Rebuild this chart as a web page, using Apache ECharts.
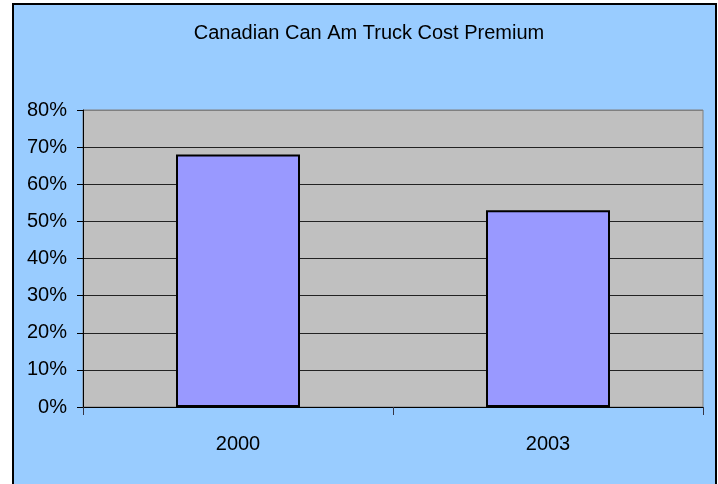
<!DOCTYPE html>
<html>
<head>
<meta charset="utf-8">
<script src="https://cdn.jsdelivr.net/npm/echarts@6/dist/echarts.min.js"></script>
<style>
  html, body { margin: 0; padding: 0; background: #fff; }
  #chart { width: 718px; height: 484px; }
</style>
</head>
<body>
<div id="chart"></div>
<script>
// Cost premium of Canadian Can Am trucks, by year (percent)
const years = ['2000', '2003'];
const premium = [68, 53];
const yTicks = { min: 0, max: 80, interval: 10 };

const FONT = "'Liberation Sans', Arial, sans-serif";

// dark gridlines, the topmost one blends into the grey plot border
const gridColors = ['#222', '#222', '#222', '#222', '#222', '#222', '#222', '#222', '#808080'];

const chart = echarts.init(document.getElementById('chart'));
chart.setOption({
  backgroundColor: '#ffffff',
  animation: false,
  graphic: [{
    type: 'rect',
    z: -100,
    silent: true,
    shape: { x: 13, y: 4, width: 703, height: 500 },
    style: { fill: '#99CCFF', stroke: '#000000', lineWidth: 2 }
  }],
  title: {
    text: 'Canadian Can Am Truck Cost Premium',
    left: 364,
    textAlign: 'center',
    top: 18,
    textStyle: { fontFamily: FONT, fontSize: 20, fontWeight: 'normal', color: '#000' }
  },
  grid: {
    left: 83, top: 110, right: 15, bottom: 77,
    show: true,
    backgroundColor: '#C0C0C0',
    borderColor: '#808080',
    borderWidth: 1
  },
  xAxis: {
    type: 'category',
    data: years,
    axisLine: { lineStyle: { color: '#000', width: 1 } },
    axisTick: { show: true, length: 8, lineStyle: { color: '#334', width: 1 } },
    axisLabel: { fontFamily: FONT, fontSize: 20, color: '#000', margin: 27 },
    splitLine: { show: false }
  },
  yAxis: {
    type: 'value',
    min: yTicks.min,
    max: yTicks.max,
    interval: yTicks.interval,
    axisLine: { show: true, lineStyle: { color: '#000', width: 1 } },
    axisTick: { show: true, length: 6, lineStyle: { color: '#000' } },
    axisLabel: { fontFamily: FONT, fontSize: 20, color: '#000', margin: 16, formatter: '{value}%' },
    splitLine: { show: true, lineStyle: { color: gridColors, width: 1 } }
  },
  series: [{
    type: 'bar',
    data: premium,
    barWidth: '40%',
    itemStyle: { color: '#9999FF', borderColor: '#000', borderWidth: 2 }
  }]
});
</script>
</body>
</html>
